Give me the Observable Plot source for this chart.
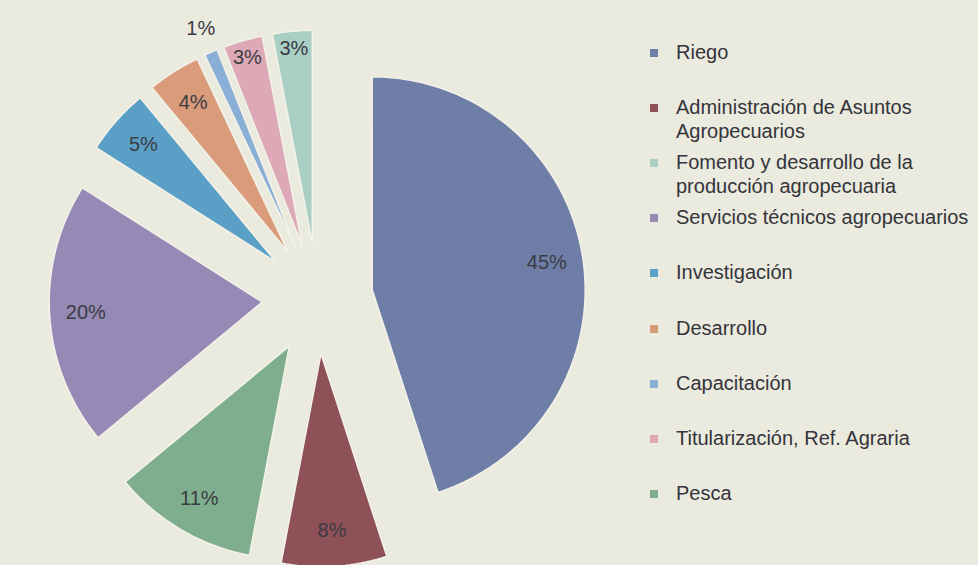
<!DOCTYPE html>
<html>
<head>
<meta charset="utf-8">
<script src="https://cdn.jsdelivr.net/npm/d3@7"></script>
<script src="https://cdn.jsdelivr.net/npm/@observablehq/plot@0.6"></script>
<style>
  html, body { margin: 0; padding: 0; background: #ebeadf; }
  #wrap { position: relative; width: 978px; height: 565px; overflow: hidden; }
  #chart { position: absolute; left: 0; top: 0; }
  #legend { position: absolute; left: 650px; top: 40px; font-family: "Liberation Sans", Arial, sans-serif; font-size: 20px; color: #34343a; }
  .item { position: absolute; left: 0; width: 330px; display: flex; align-items: flex-start; line-height: 24px; }
  .sw { width: 8px; height: 8px; margin-top: 9px; margin-right: 18px; flex: none; }
</style>
</head>
<body>
<div id="wrap"><div id="chart"></div><div id="legend"></div></div>
<script>
// Legend order (as printed in the key)
const categories = [
  "Riego",
  "Administración de Asuntos Agropecuarios",
  "Fomento y desarrollo de la producción agropecuaria",
  "Servicios técnicos agropecuarios",
  "Investigación",
  "Desarrollo",
  "Capacitación",
  "Titularización, Ref. Agraria",
  "Pesca"
];
const shares = [45, 8, 3, 20, 5, 4, 1, 3, 11];
const colors = ["#6f7ea7", "#8e5158", "#a9cfc4", "#958ab6", "#5a9fc6", "#d99b7a", "#8aafd6", "#dda9b7", "#7eae8e"];
const legendLines = [
  ["Riego"],
  ["Administración de Asuntos", "Agropecuarios"],
  ["Fomento y desarrollo de la", "producción agropecuaria"],
  ["Servicios técnicos agropecuarios"],
  ["Investigación"],
  ["Desarrollo"],
  ["Capacitación"],
  ["Titularización, Ref. Agraria"],
  ["Pesca"]
];
// Order in which the slices run clockwise from 12 o'clock
const pieOrder = [
  "Riego",
  "Administración de Asuntos Agropecuarios",
  "Pesca",
  "Servicios técnicos agropecuarios",
  "Investigación",
  "Desarrollo",
  "Capacitación",
  "Titularización, Ref. Agraria",
  "Fomento y desarrollo de la producción agropecuaria"
];

const valueOf = new Map(categories.map((c, i) => [c, shares[i]]));
const explode = 0.26;
const pie = d3.pie().sort(null).value(d => valueOf.get(d))(pieOrder);

const pts = [];
const labels = [];
for (const s of pie) {
  const name = s.data;
  const a0 = s.startAngle, a1 = s.endAngle, m = (a0 + a1) / 2;
  const ox = explode * Math.sin(m), oy = explode * Math.cos(m);
  pts.push({name, x: ox, y: oy});
  const n = Math.max(4, Math.ceil((a1 - a0) / (Math.PI / 120)));
  for (let k = 0; k <= n; k++) {
    const a = a0 + (a1 - a0) * k / n;
    pts.push({name, x: ox + Math.sin(a), y: oy + Math.cos(a)});
  }
  const v = valueOf.get(name);
  const lr = v < 2 ? 1.12 : v <= 3 ? 0.92 : 0.83;
  labels.push({name, x: ox + lr * Math.sin(m), y: oy + lr * Math.cos(m), text: v + "%"});
}

const R = 213;
const plot = Plot.plot({
  width: 978,
  height: 565,
  margin: 0,
  x: {domain: [-317 / R, (978 - 317) / R], range: [0, 978], axis: null},
  y: {domain: [-(565 - 298) / R, 298 / R], range: [565, 0], axis: null},
  color: {domain: categories, range: colors},
  style: {background: "transparent", fontFamily: "'Liberation Sans', Arial, sans-serif"},
  marks: [
    Plot.line(pts, {x: "x", y: "y", z: "name", fill: "name", stroke: "#f3f2e8", strokeWidth: 1.5, curve: "linear-closed"}),
    Plot.text(labels, {x: "x", y: "y", text: "text", fontSize: 20, fill: "#3b3b44"})
  ]
});
document.getElementById("chart").appendChild(plot);

const legend = document.getElementById("legend");
categories.forEach((c, i) => {
  const it = document.createElement("div");
  it.className = "item";
  it.style.top = (i * 55.1) + "px";
  const sw = document.createElement("div");
  sw.className = "sw";
  sw.style.background = colors[i];
  const tx = document.createElement("div");
  tx.innerHTML = legendLines[i].join("<br>");
  it.appendChild(sw); it.appendChild(tx);
  legend.appendChild(it);
});
</script>
</body>
</html>
